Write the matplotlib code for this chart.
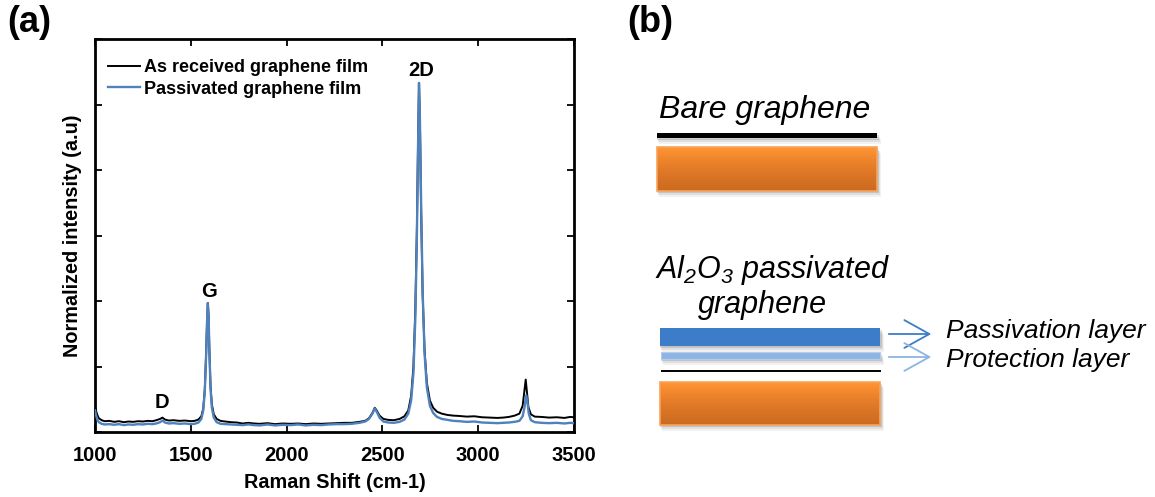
import numpy as np
import matplotlib
matplotlib.use("Agg")
import matplotlib.pyplot as plt
from matplotlib.patches import Rectangle, FancyArrowPatch
from matplotlib.colors import LinearSegmentedColormap

plt.rcParams['font.family'] = ['Liberation Sans', 'DejaVu Sans']
plt.rcParams['mathtext.fontset'] = 'custom'
plt.rcParams['mathtext.it'] = 'Liberation Sans:italic'
plt.rcParams['mathtext.rm'] = 'Liberation Sans:italic'

# ---------------- data ----------------
shift_received = [1000, 1005, 1012, 1020, 1035, 1050, 1075, 1100, 1125, 1150, 1175, 1200, 1225, 1250,
                  1275, 1300, 1320, 1340, 1352, 1365, 1385, 1410, 1440, 1470, 1500, 1520, 1540, 1555,
                  1565, 1573, 1580, 1585, 1589, 1593, 1597, 1603, 1610, 1620, 1635, 1655, 1680, 1710,
                  1740, 1770, 1800, 1830, 1860, 1900, 1940, 1980, 2020, 2060, 2100, 2140, 2180, 2220,
                  2260, 2300, 2340, 2380, 2410, 2430, 2448, 2460, 2470, 2485, 2505, 2530, 2560, 2590,
                  2615, 2635, 2650, 2662, 2672, 2680, 2686, 2691, 2696, 2702, 2710, 2720, 2732, 2748,
                  2765, 2785, 2810, 2840, 2870, 2900, 2940, 2980, 3020, 3060, 3100, 3130, 3160, 3190,
                  3215, 3232, 3242, 3248, 3254, 3262, 3275, 3295, 3330, 3370, 3410, 3450, 3480, 3500]
intensity_received = [0.40, 0.33, 0.26, 0.21, 0.18, 0.165, 0.17, 0.155, 0.165, 0.15, 0.16, 0.155, 0.165, 0.16,
                      0.17, 0.165, 0.18, 0.20, 0.22, 0.19, 0.175, 0.18, 0.17, 0.175, 0.165, 0.17, 0.19, 0.24,
                      0.36, 0.65, 1.20, 1.70, 1.97, 1.75, 1.25, 0.70, 0.42, 0.27, 0.20, 0.17, 0.16, 0.15,
                      0.145, 0.13, 0.14, 0.13, 0.125, 0.135, 0.12, 0.13, 0.125, 0.13, 0.12, 0.13, 0.125, 0.13,
                      0.135, 0.14, 0.14, 0.155, 0.17, 0.21, 0.29, 0.37, 0.33, 0.25, 0.20, 0.185, 0.18, 0.20,
                      0.24, 0.33, 0.55, 1.00, 1.90, 3.10, 4.40, 5.33, 4.70, 3.40, 2.10, 1.25, 0.75, 0.48,
                      0.37, 0.31, 0.28, 0.26, 0.25, 0.245, 0.235, 0.24, 0.225, 0.22, 0.215, 0.22, 0.23, 0.25,
                      0.28, 0.40, 0.65, 0.80, 0.62, 0.38, 0.27, 0.235, 0.23, 0.22, 0.225, 0.215, 0.23, 0.225]

shift_passivated = [1000, 1005, 1012, 1020, 1035, 1050, 1075, 1100, 1125, 1150, 1175, 1200, 1225, 1250,
                    1275, 1300, 1320, 1340, 1352, 1365, 1385, 1410, 1440, 1470, 1500, 1520, 1540, 1555,
                    1565, 1573, 1580, 1585, 1589, 1593, 1597, 1603, 1610, 1620, 1635, 1655, 1680, 1710,
                    1740, 1770, 1800, 1830, 1860, 1900, 1940, 1980, 2020, 2060, 2100, 2140, 2180, 2220,
                    2260, 2300, 2340, 2380, 2410, 2430, 2448, 2460, 2470, 2485, 2505, 2530, 2560, 2590,
                    2615, 2635, 2650, 2662, 2672, 2680, 2686, 2691, 2696, 2702, 2710, 2720, 2732, 2748,
                    2765, 2785, 2810, 2840, 2870, 2900, 2940, 2980, 3020, 3060, 3100, 3130, 3160, 3190,
                    3215, 3232, 3242, 3250, 3256, 3264, 3275, 3295, 3330, 3370, 3410, 3450, 3480, 3500]
intensity_passivated = [0.33, 0.26, 0.19, 0.15, 0.125, 0.115, 0.12, 0.11, 0.12, 0.105, 0.115, 0.11, 0.12, 0.115,
                        0.125, 0.12, 0.13, 0.15, 0.175, 0.145, 0.13, 0.135, 0.125, 0.13, 0.12, 0.125, 0.145, 0.20,
                        0.33, 0.62, 1.18, 1.70, 1.97, 1.76, 1.24, 0.66, 0.37, 0.22, 0.15, 0.125, 0.12, 0.115,
                        0.11, 0.105, 0.115, 0.105, 0.10, 0.115, 0.10, 0.11, 0.105, 0.115, 0.10, 0.11, 0.105, 0.115,
                        0.12, 0.12, 0.125, 0.14, 0.16, 0.20, 0.28, 0.36, 0.31, 0.22, 0.16, 0.145, 0.14, 0.155,
                        0.19, 0.28, 0.48, 0.90, 1.75, 3.00, 4.35, 5.33, 4.75, 3.50, 2.15, 1.20, 0.68, 0.40,
                        0.29, 0.23, 0.20, 0.185, 0.17, 0.165, 0.155, 0.16, 0.145, 0.14, 0.135, 0.14, 0.145, 0.155,
                        0.17, 0.24, 0.38, 0.56, 0.48, 0.28, 0.18, 0.15, 0.14, 0.135, 0.14, 0.13, 0.14, 0.135]

series_labels = ["As received graphene film", "Passivated graphene film"]
x_ticks = [1000, 1500, 2000, 2500, 3000, 3500]
y_ticks = [0, 1, 2, 3, 4, 5, 6]
peak_labels = ["D", "G", "2D"]
peak_label_pos = [(1350, 0.30), (1595, 2.0), (2705, 5.38)]

W, H = 1155, 497
fig = plt.figure(figsize=(W / 100, H / 100), dpi=100)

# ---------------- panel (a) ----------------
ax = fig.add_axes([95 / W, (H - 432) / H, 479 / W, 393 / H])
ax.plot(shift_received, intensity_received, color='black', lw=1.4, label=series_labels[0], zorder=2)
ax.plot(shift_passivated, intensity_passivated, color='#4F81BD', lw=1.7, label=series_labels[1], zorder=3)
ax.set_xlim(1000, 3500)
ax.set_ylim(0, 6)
ax.set_xticks(x_ticks)
ax.set_xticklabels([str(t) for t in x_ticks], fontsize=14.5, fontweight='bold')
ax.set_yticks(y_ticks)
ax.set_yticklabels([])
ax.tick_params(direction='in', top=True, right=True, length=5, width=1.3, pad=10)
for s in ax.spines.values():
    s.set_linewidth(2)
ax.set_xlabel("Raman Shift (cm-1)", fontsize=14.3, fontweight='bold')
ax.xaxis.set_label_coords(0.5, (432 - 473) / 393)
ax.set_ylabel("Normalized intensity (a.u)", fontsize=14.3, fontweight='bold')
ax.yaxis.set_label_coords((82 - 95) / 479, 0.5)
for lab, (px, py) in zip(peak_labels, peak_label_pos):
    ax.text(px, py, lab, ha='center', va='bottom', fontsize=14.5, fontweight='bold')
leg = ax.legend(loc='upper left', bbox_to_anchor=((108 - 95) / 479, (432 - 59) / 393),
                frameon=False, borderpad=0, borderaxespad=0, handlelength=1.75,
                handletextpad=0.25, labelspacing=0.25,
                prop={'weight': 'bold', 'size': 13})

fig.text(7 / W, 1 - 22 / H, "(a)", fontsize=26, fontweight='bold', va='center', ha='left')
fig.text(627 / W, 1 - 22 / H, "(b)", fontsize=26, fontweight='bold', va='center', ha='left')

# ---------------- panel (b) diagram ----------------
axd = fig.add_axes([0, 0, 1, 1], zorder=-1)
axd.set_xlim(0, W)
axd.set_ylim(H, 0)
axd.axis('off')

orange_cmap = LinearSegmentedColormap.from_list('or', ['#FF9533', '#E27A28', '#CB6A20'])
grad = np.linspace(0, 1, 64).reshape(-1, 1)


def shadow(x0, y0, x1, y1):
    for k, a in [(6, 0.05), (4, 0.08), (2, 0.12)]:
        axd.add_patch(Rectangle((x0 - 1 + k / 2, y0 + k), x1 - x0 + 2, y1 - y0,
                                facecolor='black', alpha=a, lw=0, zorder=1))


def orange_box(x0, y0, x1, y1):
    shadow(x0, y0, x1, y1)
    axd.imshow(grad, cmap=orange_cmap, aspect='auto', extent=(x0, x1, y1, y0), zorder=2)
    axd.add_patch(Rectangle((x0, y0), x1 - x0, y1 - y0, facecolor='none',
                            edgecolor='#F8A35A', lw=1.2, zorder=3))


# bare graphene
axd.text(765, 110, "Bare graphene", style='italic', fontsize=23, ha='center', va='center')
axd.add_patch(Rectangle((657, 133), 220, 5, facecolor='black', lw=0, zorder=3))
shadow(657, 133, 877, 138)
orange_box(657, 147, 877, 191)

# passivated graphene
axd.text(772, 270, r"$Al_2O_3$ passivated", style='italic', fontsize=22, ha='center', va='center')
axd.text(763, 305, "graphene", style='italic', fontsize=22, ha='center', va='center')
shadow(660, 328, 880, 346)
axd.add_patch(Rectangle((660, 328), 220, 18, facecolor='#3D7CC9', lw=0, zorder=3))
shadow(661, 352, 880, 359)
axd.add_patch(Rectangle((661, 352), 219, 7, facecolor='#8DB4E2', edgecolor='#B4CDEC', lw=0.8, zorder=3))
axd.plot([662, 880], [371, 371], color='black', lw=1.4, zorder=3)
orange_box(660, 382, 880, 425)

arrow_colors = ['#3D7CC9', '#8DB4E2']
layer_names = ["Passivation layer", "Protection layer"]
for yy, ty, col, name in zip([334, 357], [331, 360], arrow_colors, layer_names):
    axd.add_patch(FancyArrowPatch((886, yy), (934, yy), arrowstyle='->,head_length=18,head_width=10',
                                  color=col, lw=1.3, zorder=3, mutation_scale=1))
    axd.text(946, ty, name, style='italic', fontsize=19, ha='left', va='center')

fig.savefig("out.png", dpi=100)
